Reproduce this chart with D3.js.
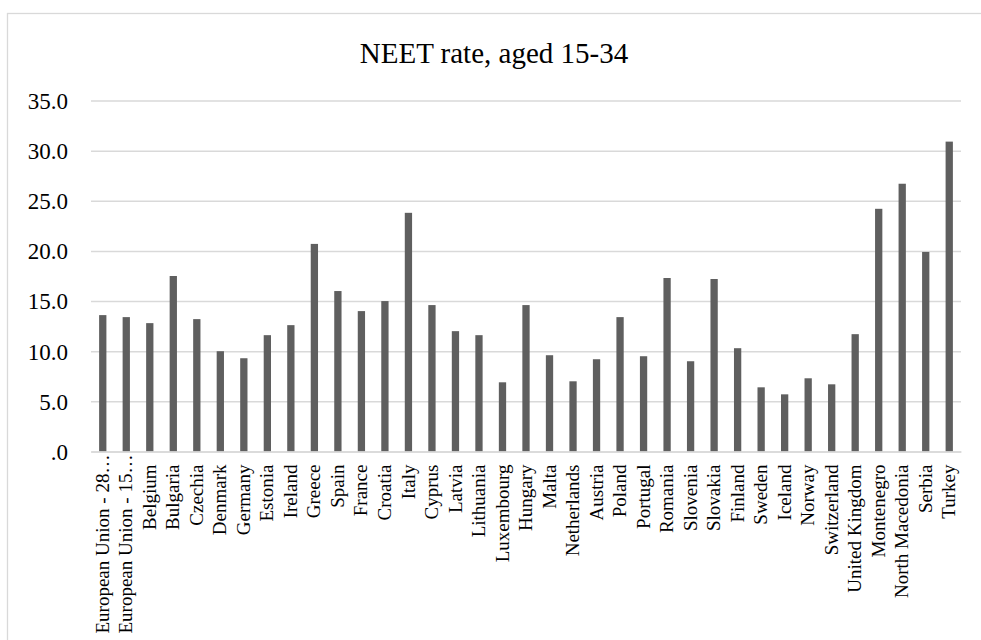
<!DOCTYPE html>
<html>
<head>
<meta charset="utf-8">
<script src="https://cdn.jsdelivr.net/npm/d3@7"></script>
<style>
  html, body { margin: 0; padding: 0; background: #fff; }
  svg { display: block; }
  text { font-family: "Liberation Serif", "Times New Roman", serif; fill: #000; }
</style>
</head>
<body>
<svg id="chart" width="981" height="640"></svg>
<script>
// NEET rate (%) of people aged 15-34, by country
const countries = [
  "European Union - 28…", "European Union - 15…", "Belgium", "Bulgaria", "Czechia",
  "Denmark", "Germany", "Estonia", "Ireland", "Greece", "Spain", "France", "Croatia",
  "Italy", "Cyprus", "Latvia", "Lithuania", "Luxembourg", "Hungary", "Malta",
  "Netherlands", "Austria", "Poland", "Portugal", "Romania", "Slovenia", "Slovakia",
  "Finland", "Sweden", "Iceland", "Norway", "Switzerland", "United Kingdom",
  "Montenegro", "North Macedonia", "Serbia", "Turkey"
];
const neetRate = [
  13.6, 13.4, 12.8, 17.5, 13.2,
  10.0, 9.3, 11.6, 12.6, 20.7, 16.0, 14.0, 15.0,
  23.8, 14.6, 12.0, 11.6, 6.9, 14.6, 9.6,
  7.0, 9.2, 13.4, 9.5, 17.3, 9.0, 17.2,
  10.3, 6.4, 5.7, 7.3, 6.7, 11.7,
  24.2, 26.7, 19.9, 30.9
];
const yTicks = [0, 5, 10, 15, 20, 25, 30, 35];
const chartTitle = "NEET rate, aged 15-34";

const svg = d3.select("#chart");
const W = 981, H = 640;
const plot = { left: 91, right: 961, top: 100.5, bottom: 451.5 };

// outer chart frame
svg.append("rect")
  .attr("x", 7.5).attr("y", 13.5)
  .attr("width", W + 10).attr("height", H + 10)
  .attr("fill", "none").attr("stroke", "#d9d9d9").attr("stroke-width", 1.3);

const x = d3.scaleBand()
  .domain(countries)
  .range([plot.left, plot.right])
  .paddingInner(0.69)
  .paddingOuter(0.345);

const y = d3.scaleLinear()
  .domain([0, 35])
  .range([plot.bottom, plot.top]);

// title
svg.append("text")
  .attr("x", (7 + W) / 2)
  .attr("y", 63)
  .attr("text-anchor", "middle")
  .style("font-size", "29px")
  .text(chartTitle);

// horizontal gridlines and value labels
const yAxis = d3.axisLeft(y)
  .tickValues(yTicks)
  .tickSize(-(plot.right - plot.left))
  .tickPadding(23)
  .tickFormat(d => d === 0 ? ".0" : d3.format(".1f")(d));

const gy = svg.append("g")
  .attr("transform", `translate(${plot.left},0)`)
  .call(yAxis);
gy.select(".domain").remove();
gy.selectAll(".tick line").attr("stroke", "#d9d9d9").attr("stroke-width", 1.5);
gy.selectAll(".tick text")
  .attr("dy", "0.34em")
  .style("font-size", "23px")
  .style("font-family", "Liberation Serif, serif")
  .attr("fill", "#000");

// bars
svg.append("g")
  .selectAll("rect")
  .data(countries)
  .join("rect")
  .attr("x", d => x(d))
  .attr("width", x.bandwidth())
  .attr("y", (d, i) => y(neetRate[i]))
  .attr("height", (d, i) => y(0) - y(neetRate[i]))
  .attr("fill", "#5f5f5f");

// category axis: baseline and rotated labels
const xAxis = d3.axisBottom(x).tickSize(0).tickPadding(0);
const gx = svg.append("g")
  .attr("transform", `translate(0,${plot.bottom})`)
  .call(xAxis);
gx.select(".domain").attr("stroke", "#d9d9d9").attr("stroke-width", 1.5);
const labelTop = 13, labelLimit = 182;
gx.selectAll(".tick text")
  .style("font-size", "19px")
  .style("font-family", "Liberation Serif, serif")
  .attr("fill", "#000")
  .attr("text-anchor", "end")
  .attr("dy", "0.32em")
  .each(function () {
    const len = this.getComputedTextLength();
    const off = Math.max(1, Math.min(labelTop, labelLimit - len));
    d3.select(this).attr("transform", `translate(0,${off}) rotate(-90)`)
      .attr("x", 0).attr("y", 0);
  });
</script>
</body>
</html>
